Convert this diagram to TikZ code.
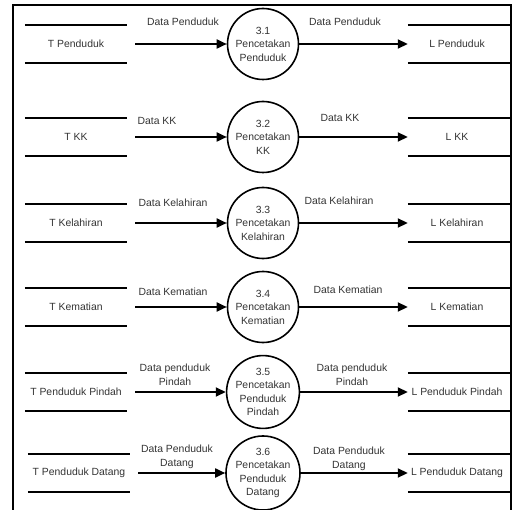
\documentclass[tikz,border=0pt]{standalone}
\usepackage{fontspec}
\setmainfont{Liberation Sans}
\usetikzlibrary{arrows.meta}
\begin{document}
\begin{tikzpicture}[x=1pt,y=-1pt,
  every node/.style={font=\fontsize{10.4}{13.5}\selectfont, text=black!80},
  proc/.style={circle,draw,line width=1.6pt,minimum size=71pt,inner sep=0pt,align=center},
  store/.style={minimum width=102pt,minimum height=37pt,inner sep=0pt},
  rstore/.style={minimum width=98pt,minimum height=37pt,inner sep=0pt},
  flow/.style={line width=1.8pt,-{Triangle[length=10pt,width=9pt]}},
  sline/.style={line width=1.8pt},
  lbl/.style={align=center,inner sep=0pt}]
\useasboundingbox (0,0) rectangle (513,510);
\coordinate (fr) at (511,0);
\draw[line width=1.8pt] (13,512) -- (13,5) -- (511,5) -- (511,512);

\foreach \i/\y/\tx/\ts/\pr/\ls in {
  1/44/76/{T Penduduk}/{3.1\\Pencetakan\\Penduduk}/{L Penduduk},
  2/137/76/{T KK}/{3.2\\Pencetakan\\KK}/{L KK},
  3/223/76/{T Kelahiran}/{3.3\\Pencetakan\\Kelahiran}/{L Kelahiran},
  4/307/76/{T Kematian}/{3.4\\Pencetakan\\Kematian}/{L Kematian},
  5/392/76/{T Penduduk Pindah}/{3.5\\Pencetakan\\Penduduk\\Pindah}/{L Penduduk Pindah},
  6/473/79/{T Penduduk Datang}/{3.6\\Pencetakan\\Penduduk\\Datang}/{L Penduduk Datang}}{
  \node[store] (t\i) at (\tx,\y) {\ts};
  \draw[sline] (t\i.north west) -- (t\i.north east) (t\i.south west) -- (t\i.south east);
  \node[proc] (p\i) at (263,\y) {\pr};
  \node[rstore] (l\i) at (457,\y) {\ls};
  \draw[sline] (l\i.north west) -- (l\i.north west -| fr) (l\i.south west) -- (l\i.south west -| fr);
  \draw[flow,shorten <=8pt] (t\i) -- (p\i);
  \draw[flow] (p\i) -- (l\i);
}

% left flow labels
\node[lbl] (a1) at (183,22) {Data Penduduk};
\node[lbl] (a2) at (157,121) {Data KK};
\node[lbl] (a3) at (173,203) {Data Kelahiran};
\node[lbl] (a4) at (173,292) {Data Kematian};
\node[lbl] (a5) at (175,375) {Data penduduk\\Pindah};
\node[lbl] (a6) at (177,457) {Data Penduduk\\Datang};
% right flow labels
\node[lbl] (b1) at (345,22) {Data Penduduk};
\node[lbl] (b2) at (340,118) {Data KK};
\node[lbl] (b3) at (339,201) {Data Kelahiran};
\node[lbl] (b4) at (348,290) {Data Kematian};
\node[lbl] (b5) at (352,375) {Data penduduk\\Pindah};
\node[lbl] (b6) at (349,459) {Data Penduduk\\Datang};
\end{tikzpicture}
\end{document}
